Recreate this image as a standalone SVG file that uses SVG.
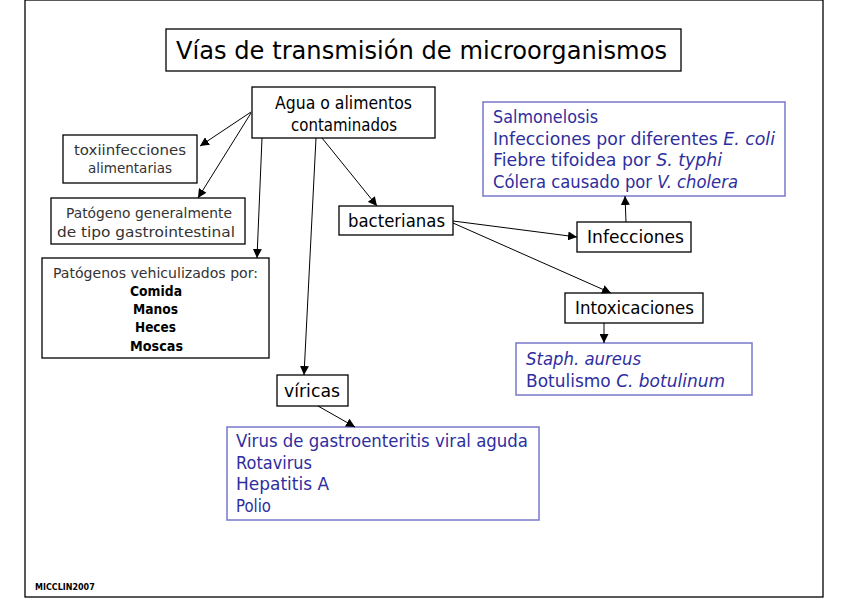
<svg xmlns="http://www.w3.org/2000/svg" width="848" height="599" viewBox="0 0 848 599">
<style>
.box{fill:#fff;stroke:#000;stroke-width:1.3}
.bbox{fill:#fff;stroke:#7878cc;stroke-width:1.5}
.t{font-family:"DejaVu Sans","Liberation Sans",sans-serif;fill:#000}
.lt{font-family:"DejaVu Sans","Liberation Sans",sans-serif;fill:#333}
.b{font-family:"DejaVu Sans","Liberation Sans",sans-serif;fill:#2e2e9e}
.bold{font-weight:bold}
.c{stroke:#000;stroke-width:1;fill:none;marker-end:url(#ah)}
</style>
<defs>
<marker id="ah" viewBox="0 0 10 10" refX="10" refY="5" markerWidth="9" markerHeight="9" markerUnits="userSpaceOnUse" orient="auto">
<path d="M0,0 L10,5 L0,10 z" fill="#000"/>
</marker>
</defs>
<rect x="0" y="0" width="848" height="599" fill="#fff"/>
<rect x="25" y="0" width="798" height="597" fill="none" stroke="#000" stroke-width="1.3"/>

<g id="title">
<rect class="box" x="166" y="29" width="515" height="42"/>
<text class="t" x="176" y="59" font-size="24" textLength="491" lengthAdjust="spacingAndGlyphs">Vías de transmisión de microorganismos</text>
</g>

<g id="agua">
<rect class="box" x="252" y="87" width="183" height="51"/>
<text class="t" x="275" y="109" font-size="17" textLength="137" lengthAdjust="spacingAndGlyphs">Agua o alimentos</text>
<text class="t" x="291" y="131" font-size="17" textLength="106" lengthAdjust="spacingAndGlyphs">contaminados</text>
</g>

<g id="toxi">
<rect class="box" x="63" y="135" width="134" height="48"/>
<text class="lt" x="74" y="155" font-size="14" textLength="112" lengthAdjust="spacingAndGlyphs">toxiinfecciones</text>
<text class="lt" x="88" y="173" font-size="14" textLength="84" lengthAdjust="spacingAndGlyphs">alimentarias</text>
</g>

<g id="patogeno">
<rect class="box" x="51" y="198" width="194" height="46"/>
<text class="lt" x="66" y="218" font-size="14" textLength="166" lengthAdjust="spacingAndGlyphs">Patógeno generalmente</text>
<text class="lt" x="57" y="237" font-size="14" textLength="178" lengthAdjust="spacingAndGlyphs">de tipo gastrointestinal</text>
</g>

<g id="vehiculizados">
<rect class="box" x="42" y="258" width="227" height="100"/>
<text class="lt" x="53" y="278" font-size="14" textLength="205" lengthAdjust="spacingAndGlyphs">Patógenos vehiculizados por:</text>
<text class="t bold" x="130" y="296" font-size="14" textLength="52" lengthAdjust="spacingAndGlyphs">Comida</text>
<text class="t bold" x="133" y="314" font-size="14" textLength="45" lengthAdjust="spacingAndGlyphs">Manos</text>
<text class="t bold" x="135" y="332" font-size="14" textLength="41" lengthAdjust="spacingAndGlyphs">Heces</text>
<text class="t bold" x="130" y="351" font-size="14" textLength="53" lengthAdjust="spacingAndGlyphs">Moscas</text>
</g>

<g id="bacterianas">
<rect class="box" x="339" y="206" width="114" height="29"/>
<text class="t" x="348" y="227" font-size="17" textLength="97" lengthAdjust="spacingAndGlyphs">bacterianas</text>
</g>

<g id="infecciones">
<rect class="box" x="577" y="222" width="114" height="30"/>
<text class="t" x="587" y="243" font-size="17" textLength="97" lengthAdjust="spacingAndGlyphs">Infecciones</text>
</g>

<g id="infecciones-lista">
<rect class="bbox" x="483" y="102" width="302" height="94"/>
<text class="b" x="493" y="123" font-size="17" textLength="105" lengthAdjust="spacingAndGlyphs">Salmonelosis</text>
<text class="b" x="493" y="145" font-size="17" textLength="282" lengthAdjust="spacingAndGlyphs">Infecciones por diferentes <tspan font-style="italic">E. coli</tspan></text>
<text class="b" x="493" y="166" font-size="17" textLength="229" lengthAdjust="spacingAndGlyphs">Fiebre tifoidea por <tspan font-style="italic">S. typhi</tspan></text>
<text class="b" x="493" y="188" font-size="17" textLength="245" lengthAdjust="spacingAndGlyphs">Cólera causado por <tspan font-style="italic">V. cholera</tspan></text>
</g>

<g id="intoxicaciones">
<rect class="box" x="565" y="293" width="138" height="30"/>
<text class="t" x="575" y="314" font-size="17" textLength="119" lengthAdjust="spacingAndGlyphs">Intoxicaciones</text>
</g>

<g id="intoxicaciones-lista">
<rect class="bbox" x="516" y="343" width="236" height="52"/>
<text class="b" x="526" y="365" font-size="17" font-style="italic" textLength="115" lengthAdjust="spacingAndGlyphs">Staph. aureus</text>
<text class="b" x="526" y="387" font-size="17" textLength="199" lengthAdjust="spacingAndGlyphs">Botulismo <tspan font-style="italic">C. botulinum</tspan></text>
</g>

<g id="viricas">
<rect class="box" x="277" y="375" width="71" height="31"/>
<text class="t" x="284" y="397" font-size="17" textLength="56" lengthAdjust="spacingAndGlyphs">víricas</text>
</g>

<g id="virus-lista">
<rect class="bbox" x="227" y="427" width="312" height="93"/>
<text class="b" x="236" y="447" font-size="17" textLength="292" lengthAdjust="spacingAndGlyphs">Virus de gastroenteritis viral aguda</text>
<text class="b" x="236" y="469" font-size="17" textLength="76" lengthAdjust="spacingAndGlyphs">Rotavirus</text>
<text class="b" x="236" y="490" font-size="17" textLength="93" lengthAdjust="spacingAndGlyphs">Hepatitis A</text>
<text class="b" x="236" y="512" font-size="17" textLength="35" lengthAdjust="spacingAndGlyphs">Polio</text>
</g>

<g id="connectors">
<line class="c" x1="251" y1="112" x2="200" y2="146"/>
<line class="c" x1="251" y1="113" x2="198" y2="198"/>
<line class="c" x1="262" y1="138" x2="257" y2="258"/>
<line class="c" x1="316" y1="138" x2="304" y2="375"/>
<line class="c" x1="322" y1="138" x2="377" y2="206"/>
<line class="c" x1="453" y1="221" x2="577" y2="237"/>
<line class="c" x1="453" y1="223" x2="611" y2="293"/>
<line class="c" x1="626" y1="222" x2="625" y2="196"/>
<line class="c" x1="604" y1="323" x2="604" y2="343"/>
<line class="c" x1="318" y1="406" x2="355" y2="427"/>
</g>

<text class="t bold" x="35" y="590" font-size="8">MICCLIN2007</text>
</svg>
